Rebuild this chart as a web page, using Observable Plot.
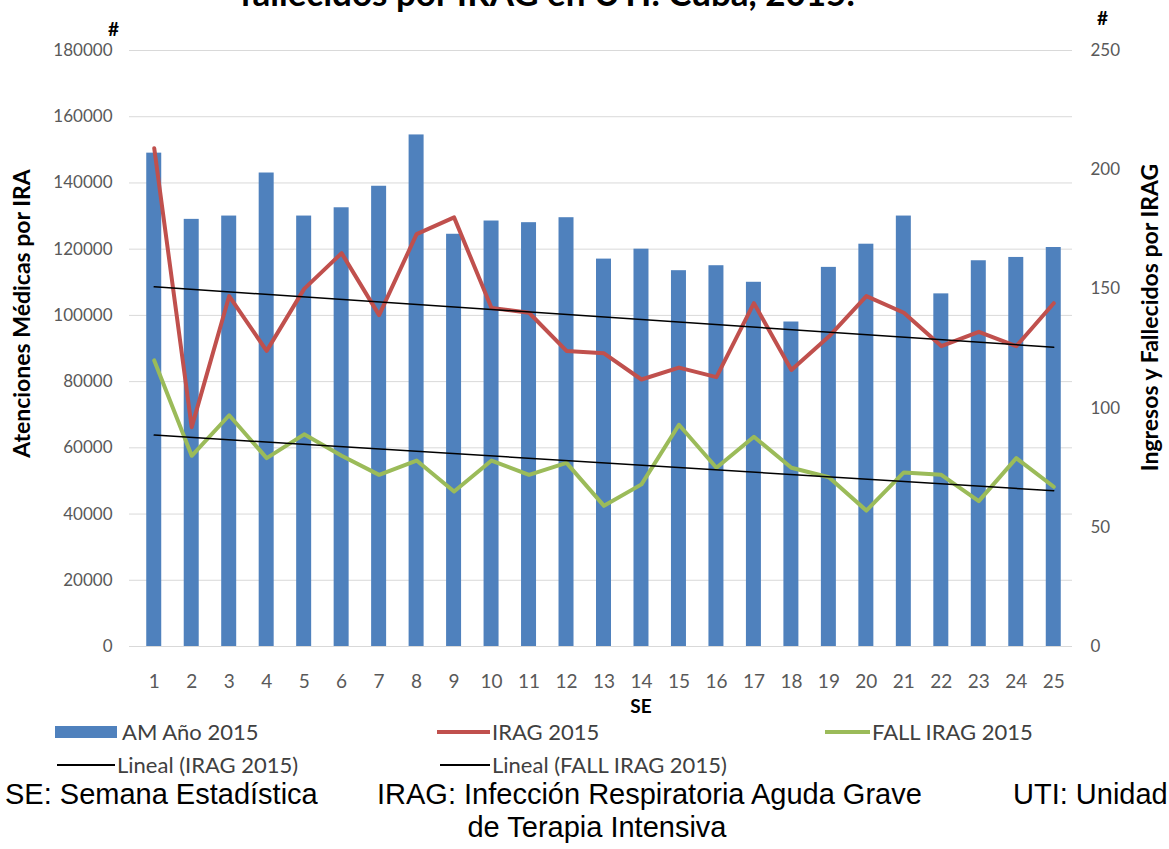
<!DOCTYPE html>
<html><head><meta charset="utf-8">
<script src="https://cdn.jsdelivr.net/npm/d3@7"></script>
<script src="https://cdn.jsdelivr.net/npm/@observablehq/plot@0.6"></script>
<style>
html,body{margin:0;padding:0;background:#fff;overflow:hidden}
#wrap{position:relative;width:1169px;height:849px;overflow:hidden;font-family:Lato,sans-serif}
#chart{position:absolute;left:0;top:0}
.title{position:absolute;left:240px;top:-25px;font:bold 35px/35px Lato,sans-serif;color:#000;white-space:nowrap}
.leg{position:absolute;font:22px/22px Lato,sans-serif;color:#404040;white-space:nowrap}
.sw{position:absolute}
.foot{position:absolute;font:29px/32px "Liberation Sans",Arial,sans-serif;color:#000;white-space:nowrap}
</style></head>
<body><div id="wrap"><div id="chart"></div></div>
<script>
const semanas = [1,2,3,4,5,6,7,8,9,10,11,12,13,14,15,16,17,18,19,20,21,22,23,24,25];
const amAnio2015 = [149000,129000,130000,143000,130000,132500,139000,154500,124500,128500,128000,129500,117000,120000,113500,115000,110000,98000,114500,121500,130000,106500,116500,117500,120500];
const irag2015 = [209,92,147,124,150,165,139,173,180,142,140,124,123,112,117,113,144,116,130,147,140,126,132,126,144];
const fallIrag2015 = [120,80,97,79,89,80,72,78,65,78,72,77,59,68,93,75,88,75,71,57,73,72,61,79,67];
const leftTicks = [0,20000,40000,60000,80000,100000,120000,140000,160000,180000];
const rightTicks = [0,50,100,150,200,250];
const seriesNames = ["AM Año 2015","IRAG 2015","FALL IRAG 2015","Lineal (IRAG 2015)","Lineal (FALL IRAG 2015)"];
const seriesColors = ["#4f81bd","#c0504d","#9bbb59","#000000","#000000"];
const titleText = "fallecidos por IRAG en UTI. Cuba, 2015.";
const xLabel = "SE";
const yLeftLabel = "Atenciones Médicas por IRA";
const yRightLabel = "Ingresos y Fallecidos por IRAG";
const unitLabel = "#";
const notes = ["SE: Semana Estadística","IRAG: Infección Respiratoria Aguda Grave","UTI: Unidad","de Terapia Intensiva"];

const K = leftTicks[leftTicks.length-1] / rightTicks[rightTicks.length-1];
const rows = semanas.map((se,i)=>({se, am: amAnio2015[i], irag: irag2015[i], fall: fallIrag2015[i]}));

const plot = Plot.plot({
  width:1169, height:720, marginLeft:135, marginRight:97, marginTop:50, marginBottom:74,
  style:{fontFamily:"Lato, sans-serif", background:"transparent", overflow:"visible"},
  x:{type:"band", domain:semanas, paddingInner:0.6, paddingOuter:0.3, round:false},
  y:{domain:[0,180000]},
  marks:[
    Plot.gridY(leftTicks, {stroke:"#d9d9d9", strokeOpacity:1, strokeWidth:1}),
    Plot.barY(rows, {x:"se", y:"am", fill:seriesColors[0]}),
    Plot.line(rows, {x:"se", y:d=>d.irag*K, stroke:seriesColors[1], strokeWidth:4, strokeLinejoin:"round"}),
    Plot.line(rows, {x:"se", y:d=>d.fall*K, stroke:seriesColors[2], strokeWidth:4, strokeLinejoin:"round"}),
    Plot.linearRegressionY(rows, {x:"se", y:d=>d.irag*K, stroke:seriesColors[3], strokeWidth:1.5, ci:0}),
    Plot.linearRegressionY(rows, {x:"se", y:d=>d.fall*K, stroke:seriesColors[4], strokeWidth:1.5, ci:0}),
    Plot.axisY(leftTicks, {anchor:"left", tickSize:6, tickPadding:17, stroke:"#d9d9d9", fill:"#595959", fontSize:17, tickFormat:d=>String(d), label:null}),
    Plot.axisY(rightTicks.map(v=>v*K), {anchor:"right", tickSize:0, tickPadding:18, fill:"#595959", fontSize:17, tickFormat:d=>String(Math.round(d/K)), label:null}),
    Plot.axisX(semanas, {anchor:"bottom", tickSize:0, tickPadding:28, fill:"#595959", fontSize:19, label:null}),
    Plot.text([yLeftLabel], {frameAnchor:"left", text:d=>d, textAnchor:"middle", rotate:-90, dx:-113, dy:-35, fontWeight:"bold", fontSize:23, fill:"#000"}),
    Plot.text([yRightLabel], {frameAnchor:"right", text:d=>d, textAnchor:"middle", rotate:-90, dx:78, dy:-31, fontWeight:"bold", fontSize:23, fill:"#000"}),
    Plot.text([xLabel], {frameAnchor:"bottom", text:d=>d, textAnchor:"middle", dx:37, dy:66, fontWeight:"bold", fontSize:19, fill:"#000"}),
    Plot.text([unitLabel], {frameAnchor:"top-left", text:d=>d, textAnchor:"middle", dx:-22, dy:-28, fontWeight:"bold", fontSize:19, fill:"#000"}),
    Plot.text([unitLabel], {frameAnchor:"top-right", text:d=>d, textAnchor:"middle", dx:30, dy:-39, fontWeight:"bold", fontSize:19, fill:"#000"})
  ]
});
const wrap = document.getElementById("wrap");
document.getElementById("chart").appendChild(plot);

function add(cls, css, text){
  const el = document.createElement("div");
  el.className = cls;
  Object.assign(el.style, css);
  if (text != null) el.textContent = text;
  wrap.appendChild(el);
  return el;
}
add("title", {}, titleText);
// legend swatches
add("sw", {left:"55px", top:"726px", width:"62px", height:"12px", background:seriesColors[0]});
add("sw", {left:"437px", top:"730px", width:"53px", height:"4px", background:seriesColors[1]});
add("sw", {left:"825px", top:"730px", width:"45px", height:"4px", background:seriesColors[2]});
add("sw", {left:"57px", top:"764px", width:"58px", height:"1.5px", background:seriesColors[3]});
add("sw", {left:"440px", top:"764px", width:"50px", height:"1.5px", background:seriesColors[4]});
add("leg", {left:"122px", top:"721px"}, seriesNames[0]);
add("leg", {left:"492px", top:"721px"}, seriesNames[1]);
add("leg", {left:"872px", top:"721px"}, seriesNames[2]);
add("leg", {left:"117px", top:"754px"}, seriesNames[3]);
add("leg", {left:"492px", top:"754px"}, seriesNames[4]);
// notes
add("foot", {left:"5px", top:"778px"}, notes[0]);
add("foot", {left:"377px", top:"778px"}, notes[1]);
add("foot", {left:"1013px", top:"778px"}, notes[2]);
add("foot", {left:"0px", width:"1194px", textAlign:"center", top:"811px"}, notes[3]);
</script>
</body></html>
